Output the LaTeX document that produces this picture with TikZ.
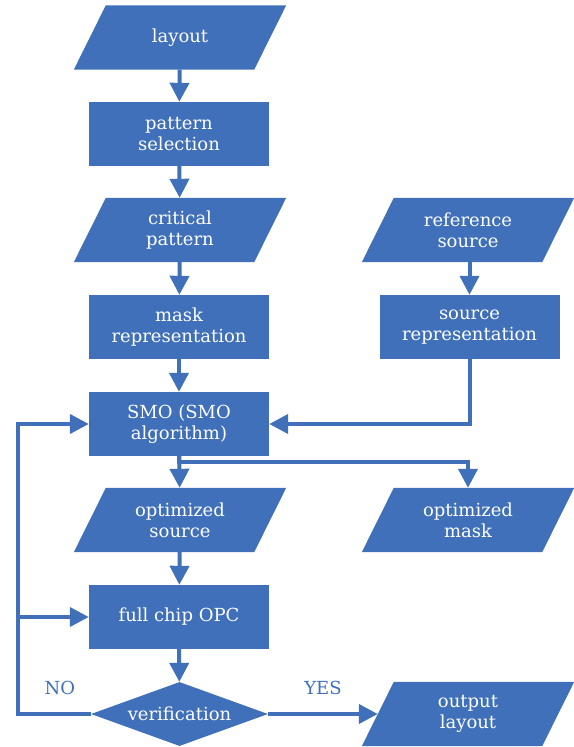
\documentclass[tikz,border=0pt]{standalone}
\usepackage{fontspec}
\setmainfont{DejaVu Serif}
\usetikzlibrary{shapes.geometric,arrows.meta,backgrounds,calc}
\definecolor{flowblue}{RGB}{63,112,185}

% parallelogram body behind a (transparent) rectangular node
\newcommand\slantfill[1]{%
  \fill[flowblue] ($(#1.south west)+(-16,0)$) -- ($(#1.south east)+(-16,0)$)
    -- ($(#1.north east)+(16,0)$) -- ($(#1.north west)+(16,0)$) -- cycle;}

\begin{document}
\begin{tikzpicture}[x=1pt,y=-1pt,
  lbl/.style={font=\fontsize{18}{21}\selectfont},
  box/.style={lbl, rectangle, fill=flowblue, text=white, minimum width=180pt,
    minimum height=64pt, inner sep=0pt, align=center},
  slanted/.style={lbl, rectangle, text=white, minimum width=180pt,
    minimum height=64pt, inner sep=0pt, align=center},
  decision/.style={lbl, diamond, fill=flowblue, text=white, shape aspect=2.77,
    minimum width=177pt, minimum height=64pt, inner sep=0pt},
  tag/.style={lbl, text=flowblue},
  flow/.style={draw=flowblue, line width=4pt,
    -{Triangle[width=19pt,length=19pt]}}]

\useasboundingbox (0,0) rectangle (573,747);

% left column
\node[slanted] (layout) at (180,37.5) {layout};
\node[box] (patsel) at (179,134) {pattern\\selection};
\node[slanted] (crit) at (180,230) {critical\\pattern};
\node[box] (maskrep) at (179,327) {mask\\representation};
\node[box] (smo) at (179,424) {SMO (SMO\\algorithm)};
\node[slanted] (optsrc) at (180,520) {optimized\\source};
\node[box] (opc) at (179,617) {full chip OPC};
\node[decision] (verif) at (179.5,714) {verification};

% right column
\node[slanted] (refsrc) at (468,230) {reference\\source};
\node[box] (srcrep) at (469.5,327) {source\\representation};
\node[slanted] (optmask) at (468,520) {optimized\\mask};
\node[slanted] (outlay) at (468,714) {output\\layout};

% branch labels
\node[tag] (no) at (60,688) {NO};
\node[tag] (yes) at (323,688) {YES};

\begin{scope}[on background layer]
  \slantfill{layout}
  \slantfill{crit}
  \slantfill{optsrc}
  \slantfill{refsrc}
  \slantfill{optmask}
  \slantfill{outlay}
\end{scope}

% main flow
\draw[flow] (layout) -- (patsel);
\draw[flow] (patsel) -- (crit);
\draw[flow] (crit) -- (maskrep);
\draw[flow] (maskrep) -- (smo);
\draw[flow] (smo) -- (optsrc);
\draw[flow] (optsrc) -- (opc);
\draw[flow] (opc) -- (verif);

% source branch
\draw[flow] (refsrc.south -| srcrep.north) -- (srcrep.north);
\draw[flow] (srcrep.south) |- (smo.east);
\draw[flow] (smo.south) -- ++(0,6) -| (optmask.north);

% verification outcomes
\coordinate (loop) at (18,714);
\draw[flow] (verif.west) -- (loop) |- (smo.west);
\draw[flow] (loop |- opc.west) -- (opc.west);
\draw[flow] (verif.east) -- (outlay.west);
\end{tikzpicture}
\end{document}
